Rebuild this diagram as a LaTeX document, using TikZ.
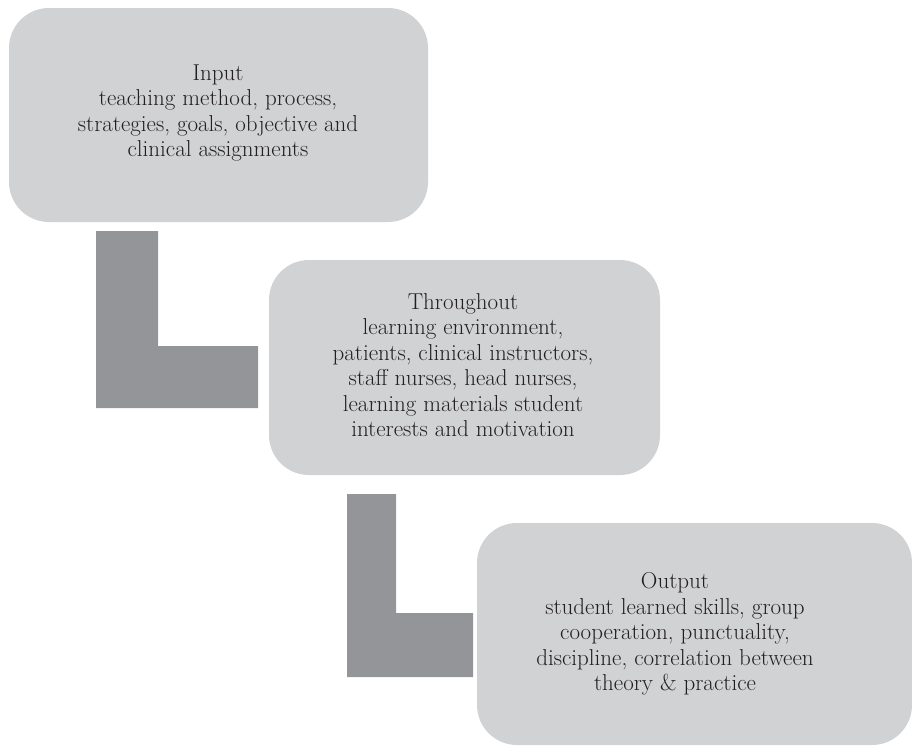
\documentclass[tikz,border=0pt]{standalone}
\usepackage{tikz}
\usepackage{xcolor}
\definecolor{boxgray}{HTML}{D1D2D4}
\definecolor{elgray}{HTML}{939598}
\definecolor{inkgray}{HTML}{231F20}

\begin{document}
\begin{tikzpicture}[x=1pt,y=-1pt]
	\tikzstyle{stage} = [fill=boxgray, rounded corners=40pt, inner sep=0pt]
	\tikzstyle{txt} = [align=center, font=\fontsize{23}{25.5}\selectfont, text=inkgray]
	\tikzstyle{elbow} = [fill=elgray]
	\useasboundingbox (0,0) rectangle (912,745);
		\node[stage, minimum width=419pt, minimum height=214pt] (inbox) at (218.5,115) {};
		\node[stage, minimum width=391pt, minimum height=215pt] (thrbox) at (464.5,367.5) {};
		\node[stage, minimum width=435pt, minimum height=222pt] (outbox) at (694.5,634) {};
		\node[txt] (intxt) at (218,113) {Input\\teaching method, process,\\strategies, goals, objective and\\clinical assignments};
		\node[txt] (thrtxt) at (463,365) {Throughout\\learning environment,\\patients, clinical instructors,\\staff nurses, head nurses,\\learning materials student\\interests and motivation};
		\node[txt] (outtxt) at (675,634) {Output\\student learned skills, group\\cooperation, punctuality,\\discipline, correlation between\\theory \& practice};
	% elbows between the stages
	\fill[elbow] (96,231) -- (158,231) -- (158,346) -- (258,346) -- (258,408) -- (96,408) -- cycle;
	\fill[elbow] (347,494) -- (396,494) -- (396,613) -- (473,613) -- (473,677) -- (347,677) -- cycle;
	\end{tikzpicture}
\end{document}
